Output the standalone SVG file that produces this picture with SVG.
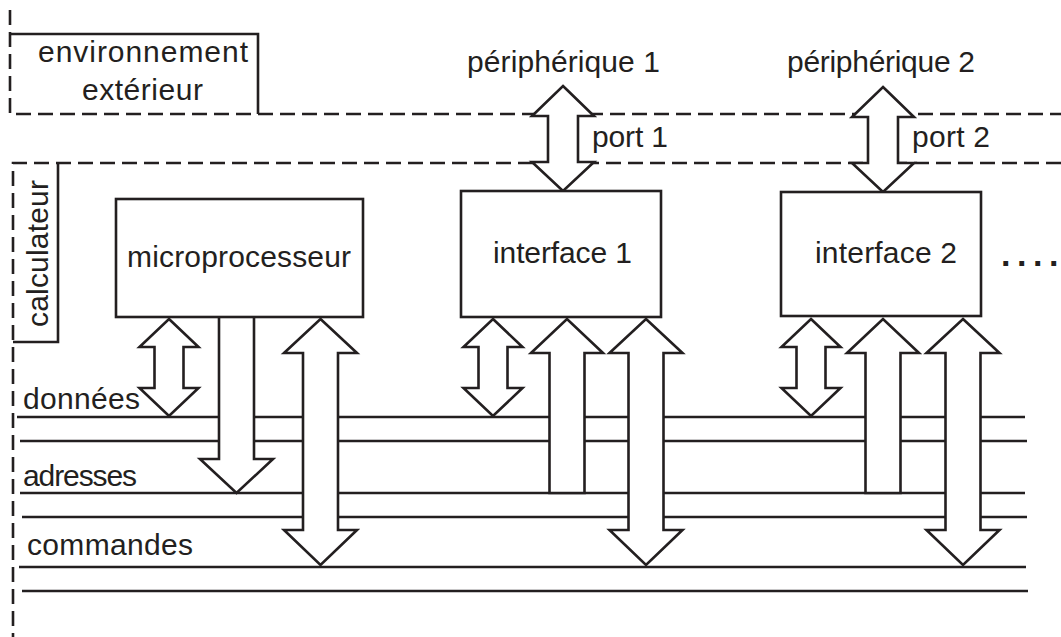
<svg xmlns="http://www.w3.org/2000/svg" width="1061" height="637" viewBox="0 0 1061 637">
  <style>
    .ln { fill: none; stroke: #231f20; stroke-width: 2.6; }
    .dash { fill: none; stroke: #231f20; stroke-width: 2.6; stroke-dasharray: 15 7; }
    .box { fill: #ffffff; stroke: #231f20; stroke-width: 2.6; }
    .arw { fill: #ffffff; stroke: #231f20; stroke-width: 2.6; stroke-linejoin: miter; }
    text { font-family: "Liberation Sans", Arial, sans-serif; font-size: 30px; fill: #231f20; }
  </style>

  <rect width="1061" height="637" fill="#ffffff"/>

  <!-- outside world zone -->
  <g id="environnement">
    <path class="dash" d="M10,10 V114 H1061"/>
    <path class="ln" d="M10,34 H258 V114"/>
    <text x="38" y="62" textLength="210">environnement</text>
    <text x="82" y="100" textLength="121">extérieur</text>
  </g>

  <!-- computer zone -->
  <g id="calculateur">
    <path class="dash" d="M1061,163 H13 V637"/>
    <path class="ln" d="M58,163 V342 H13"/>
    <text transform="translate(48,327) rotate(-90)" textLength="147">calculateur</text>
  </g>

  <!-- system buses -->
  <g id="bus">
    <line class="ln" x1="17" y1="417" x2="1025" y2="417"/>
    <line class="ln" x1="20" y1="441" x2="1027" y2="441"/>
    <line class="ln" x1="20" y1="493" x2="1025" y2="493"/>
    <line class="ln" x1="22" y1="517" x2="1027" y2="517"/>
    <line class="ln" x1="19" y1="567" x2="1026" y2="567"/>
    <line class="ln" x1="22" y1="591" x2="1028" y2="591"/>
    <text x="23" y="409" textLength="117">données</text>
    <text x="23" y="486" textLength="114">adresses</text>
    <text x="27" y="555" textLength="166">commandes</text>
  </g>

  <!-- bus and port arrows -->
  <g id="connectors">
    <!-- ports -->
    <polygon class="arw" points="563,86 594,116 578,116 578,162 594,162 563,191 532,162 548,162 548,116 532,116"/>
    <polygon class="arw" points="883,87 914,117 898,117 898,163 914,163 883,192 852,163 868,163 868,117 852,117"/>

    <!-- data bus -->
    <polygon class="arw" points="169,319 198.5,347 183.5,347 183.5,388 198.5,388 169,416 139.5,388 154.5,388 154.5,347 139.5,347"/>
    <polygon class="arw" points="493,319 522.5,347 507.5,347 507.5,388 522.5,388 493,416 463.5,388 478.5,388 478.5,347 463.5,347"/>
    <polygon class="arw" points="811,319 840.5,347 825.5,347 825.5,388 840.5,388 811,416 781.5,388 796.5,388 796.5,347 781.5,347"/>

    <!-- address bus -->
    <path class="arw" d="M219,317 V459 H200 L236.5,493 L273,459 H254 V317"/>
    <path class="arw" d="M549.5,493 V353 H531 L567,319 L603,353 H584.5 V493 Z"/>
    <path class="arw" d="M865.5,493 V353 H847 L883,319 L919,353 H900.5 V493 Z"/>

    <!-- control bus -->
    <polygon class="arw" points="320.5,319 357,353 338,353 338,530 357,530 320.5,565 284,530 303,530 303,353 284,353"/>
    <polygon class="arw" points="646,319 682.5,353 663.5,353 663.5,530 682.5,530 646,565 609.5,530 628.5,530 628.5,353 609.5,353"/>
    <polygon class="arw" points="963,319 999.5,353 980.5,353 980.5,530 999.5,530 963,565 926.5,530 945.5,530 945.5,353 926.5,353"/>
  </g>

  <g id="microprocesseur">
    <rect class="box" x="116" y="199" width="247" height="118"/>
    <text x="127" y="267" textLength="224">microprocesseur</text>
  </g>

  <g id="interface1">
    <rect class="box" x="461" y="191" width="200" height="126"/>
    <text x="493" y="263" textLength="139">interface 1</text>
  </g>

  <g id="interface2">
    <rect class="box" x="781" y="192" width="200" height="124"/>
    <text x="815" y="263" textLength="142">interface 2</text>
  </g>

  <g id="peripherique1">
    <text x="467" y="72" textLength="193">périphérique 1</text>
    <text x="592" y="147" textLength="76">port 1</text>
  </g>

  <g id="peripherique2">
    <text x="787" y="72" textLength="188">périphérique 2</text>
    <text x="912" y="147" textLength="78">port 2</text>
  </g>

  <g id="suite">
    <text x="1001 1017 1033 1049" y="266" style="font-size:34px;font-weight:bold">....</text>
  </g>
</svg>
